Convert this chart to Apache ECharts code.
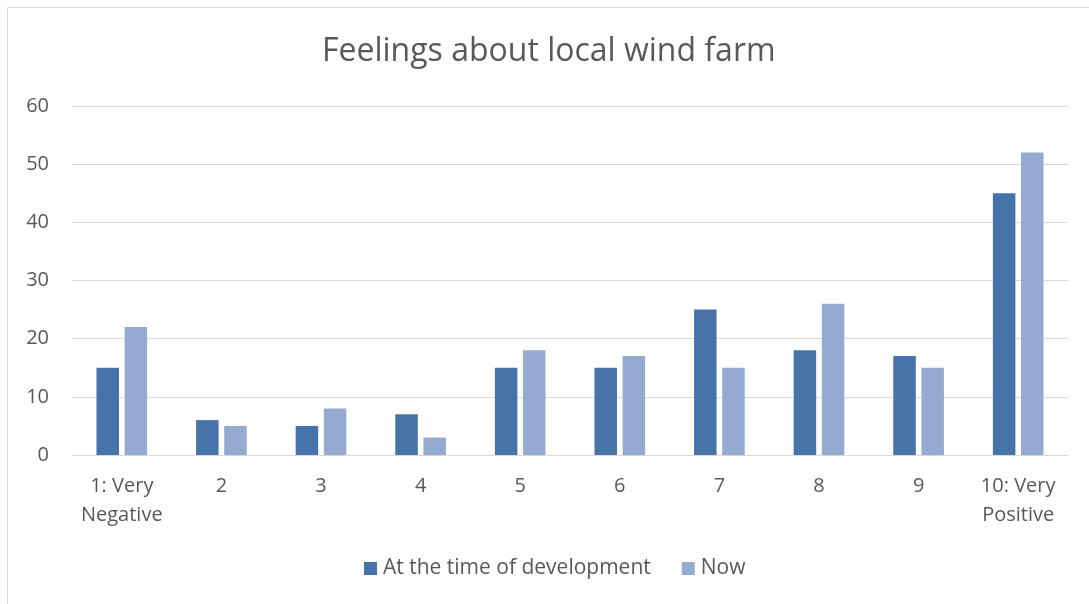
<!DOCTYPE html>
<html>
<head>
<meta charset="utf-8">
<style>
  html, body { margin: 0; padding: 0; background: #fff; }
  #chart { width: 1089px; height: 604px; }
</style>
<script src="https://cdn.jsdelivr.net/npm/echarts@6/dist/echarts.min.js"></script>
</head>
<body>
<div id="chart"></div>
<script>
// Survey ratings, 1 (very negative) to 10 (very positive)
const categories = ['1: Very\nNegative', '2', '3', '4', '5', '6', '7', '8', '9', '10: Very\nPositive'];
const atDevelopment = [15, 6, 5, 7, 15, 15, 25, 18, 17, 45];
const now = [22, 5, 8, 3, 18, 17, 15, 26, 15, 52];
const seriesNames = ['At the time of development', 'Now'];
const yTicks = { min: 0, max: 60, interval: 10 };

const FONT = '"Open Sans", sans-serif';
const TEXT = '#595959';

const chart = echarts.init(document.getElementById('chart'), null, { renderer: 'canvas' });
chart.setOption({
  animation: false,
  backgroundColor: '#fff',
  title: {
    text: 'Feelings about local wind farm',
    left: 322,
    top: 36,
    padding: 0,
    textStyle: { fontFamily: FONT, fontSize: 32, fontWeight: 'normal', color: TEXT }
  },
  graphic: [{
    type: 'rect',
    shape: { x: 7.5, y: 7.5, width: 1100, height: 620 },
    style: { fill: 'none', stroke: '#d9d9d9', lineWidth: 1 },
    silent: true
  }],
  legend: {
    bottom: 20,
    left: 359,
    itemWidth: 13,
    itemHeight: 13,
    itemGap: 31,
    icon: 'rect',
    textStyle: { fontFamily: FONT, fontSize: 21, color: TEXT, padding: [0, 0, 0, 1] },
    data: seriesNames
  },
  grid: { left: 72, right: 21, top: 106, bottom: 149, containLabel: false },
  xAxis: {
    type: 'category',
    data: categories,
    axisLine: { lineStyle: { color: '#d9d9d9', width: 1 } },
    axisTick: { show: false },
    axisLabel: {
      fontFamily: FONT, fontSize: 20, color: TEXT, lineHeight: 29, margin: 17,
      interval: 0
    }
  },
  yAxis: {
    type: 'value',
    min: yTicks.min,
    max: yTicks.max,
    interval: yTicks.interval,
    axisLine: { show: false },
    axisTick: { show: false },
    splitLine: { lineStyle: { color: '#d9d9d9', width: 1 } },
    axisLabel: { fontFamily: FONT, fontSize: 20, color: TEXT, margin: 23 }
  },
  series: [
    {
      name: seriesNames[0],
      type: 'bar',
      data: atDevelopment,
      barWidth: '22.6%',
      barGap: '25%',
      itemStyle: { color: '#4673a8' }
    },
    {
      name: seriesNames[1],
      type: 'bar',
      data: now,
      barWidth: '22.6%',
      itemStyle: { color: '#95aad1' }
    }
  ]
});
</script>
</body>
</html>
